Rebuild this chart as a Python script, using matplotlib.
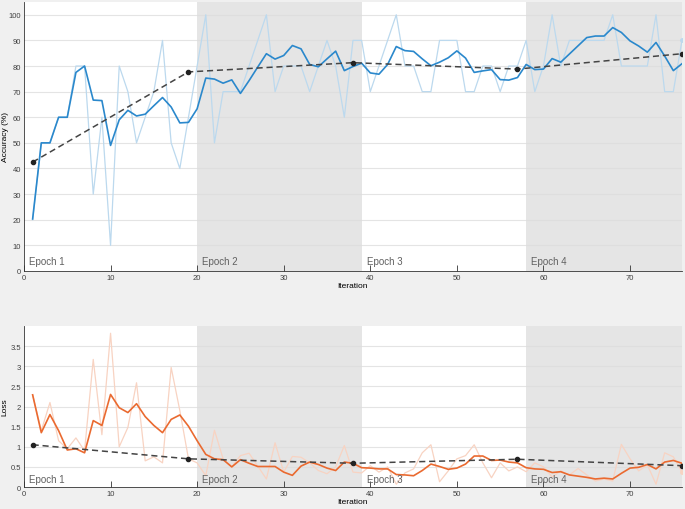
import numpy as np
import matplotlib
matplotlib.use('Agg')
import matplotlib.pyplot as plt

plt.rcParams['font.family'] = ['Liberation Sans', 'DejaVu Sans']

# 数据
iterations = list(range(1, 77))
acc_raw = [20, 50, 50, 60, 60, 80, 80, 30, 60, 10, 80, 70, 50, 60, 70, 90, 50, 40, 60, 80,
           100, 50, 70, 70, 70, 80, 90, 100, 70, 80, 80, 80, 70, 80, 90, 80, 60, 90, 90, 70,
           80, 90, 100, 80, 80, 70, 70, 90, 90, 90, 70, 70, 80, 80, 70, 80, 80, 90, 70, 80,
           100, 80, 90, 90, 90, 90, 90, 100, 80, 80, 80, 80, 100, 70, 70, 90]
acc_smooth = [20.3, 50, 50, 60, 60, 77.5, 80, 66.7, 66.5, 49, 59, 62.7, 60.5, 61.2, 64.5, 67.7,
              64, 57.8, 58, 63.3, 75.3, 74.9, 73.3, 74.6, 69.3, 74.3, 79.6, 84.8, 82.7, 84.1,
              88, 86.7, 80.6, 79.7, 82.8, 85.8, 78.2, 79.8, 81.1, 77.3, 76.8, 80.6, 87.6, 86,
              85.7, 82.8, 80.1, 81.5, 83.2, 85.9, 83.1, 77.5, 78.1, 78.6, 74.7, 74.5, 75.5, 80.6,
              78.6, 78.8, 82.9, 81.5, 84.7, 87.9, 91.1, 91.7, 91.7, 95, 93.1, 89.8, 87.8, 85.4,
              89.2, 83.9, 78.2, 80.9]
loss_raw = [2.29, 1.4, 2.1, 1.15, 0.95, 1.22, 0.9, 3.17, 1.3, 3.82, 1.0, 1.48, 2.59, 0.65, 0.75,
            0.6, 2.97, 1.9, 0.7, 0.6, 0.28, 1.41, 0.7, 0.5, 0.78, 0.84, 0.52, 0.2, 1.1, 0.37,
            0.76, 0.74, 0.6, 0.41, 0.33, 0.5, 1.03, 0.37, 0.35, 0.53, 0.37, 0.5, 0.07, 0.35,
            0.45, 0.85, 1.05, 0.13, 0.4, 0.7, 0.78, 1.05, 0.6, 0.23, 0.6, 0.4, 0.5, 0.38, 0.6,
            0.5, 0.25, 0.4, 0.3, 0.46, 0.3, 0.15, 0.2, 0.15, 1.06, 0.7, 0.4, 0.55, 0.07, 0.85,
            0.75, 0.37]
loss_smooth = [2.29, 1.35, 1.80, 1.40, 0.92, 0.95, 0.85, 1.65, 1.53, 2.30, 1.97, 1.85, 2.07, 1.75,
               1.53, 1.35, 1.68, 1.79, 1.51, 1.15, 0.81, 0.70, 0.68, 0.50, 0.68, 0.59, 0.51, 0.51,
               0.51, 0.37, 0.29, 0.52, 0.62, 0.56, 0.47, 0.41, 0.62, 0.59, 0.48, 0.47, 0.45, 0.45,
               0.31, 0.30, 0.28, 0.41, 0.57, 0.51, 0.44, 0.47, 0.57, 0.77, 0.77, 0.66, 0.67, 0.62,
               0.60, 0.48, 0.45, 0.44, 0.36, 0.38, 0.30, 0.27, 0.24, 0.20, 0.22, 0.20, 0.34, 0.47,
               0.49, 0.56, 0.45, 0.62, 0.66, 0.59]
val_iter = [1, 19, 38, 57, 76]
val_acc = [42.5, 77.7, 81.3, 78.8, 84.8]
val_loss = [1.05, 0.70, 0.59, 0.69, 0.53]
epoch_start = [0, 20, 39, 58]
epoch_end = [20, 39, 58, 76]
epoch_labels = ['Epoch 1', 'Epoch 2', 'Epoch 3', 'Epoch 4']

bg = '#f0f0f0'
fig = plt.figure(figsize=(6.85, 5.1), dpi=100, facecolor=bg)
ax1 = fig.add_axes([0.035, 0.4667, 0.9606, 0.5275])
ax2 = fig.add_axes([0.035, 0.0431, 0.9606, 0.3157])


def style_axes(ax, ylim, yticks, raw, smooth, val, c_raw, c_smooth, ylabel, label_y):
    ax.set_xlim(0, 76)
    ax.set_ylim(*ylim)
    for i in range(len(epoch_start)):
        if i % 2 == 1:
            ax.axvspan(epoch_start[i], epoch_end[i], color='#e5e5e5', lw=0, zorder=0)
        ax.text(epoch_start[i] + 0.6, label_y, epoch_labels[i], fontsize=7, color='#606060',
                va='center', ha='left', zorder=5)
    for yt in yticks[1:]:
        ax.axhline(yt, color='#dcdcdc', lw=0.8, zorder=1, alpha=0.75)
    ax.plot(iterations, raw, color=c_raw, lw=0.9, zorder=2)
    ax.plot(iterations[-1], raw[-1], 'o', color=c_raw, ms=2.5, zorder=2)
    ax.plot(iterations, smooth, color=c_smooth, lw=1.2, zorder=3)
    ax.plot(val_iter, val, '--', color='#444444', lw=1.1, dashes=(4, 2.5), zorder=4)
    ax.plot(val_iter, val, 'o', color='#222222', ms=3, zorder=4)
    ax.set_xticks(range(0, 71, 10))
    ax.set_yticks(yticks)
    ax.tick_params(direction='in', labelsize=5.5, length=4, width=0.6, colors='#333333',
                   labelcolor='#404040', pad=2)
    ax.tick_params(axis='y', length=0)
    for s in ['top', 'right']:
        ax.spines[s].set_visible(False)
    for s in ['left', 'bottom']:
        ax.spines[s].set_color('#333333')
        ax.spines[s].set_linewidth(0.6)
    ax.set_xlabel('Iteration', fontsize=6, labelpad=1)
    ax.set_ylabel(ylabel, fontsize=6)
    ax.yaxis.set_label_coords(-0.023, 0.5)


style_axes(ax1, (0, 105), list(range(0, 101, 10)), acc_raw, acc_smooth, val_acc,
           '#bcd9ee', '#2a88cc', 'Accuracy (%)', 4)
ax1.set_yticklabels([str(v) for v in range(0, 101, 10)])

style_axes(ax2, (0, 4), [0, 0.5, 1, 1.5, 2, 2.5, 3, 3.5], loss_raw, loss_smooth, val_loss,
           '#f8d3c2', '#ea6a30', 'Loss', 0.2)
ax2.set_yticklabels(['0', '0.5', '1', '1.5', '2', '2.5', '3', '3.5'])

plt.savefig('out.png', dpi=100, facecolor=bg)
